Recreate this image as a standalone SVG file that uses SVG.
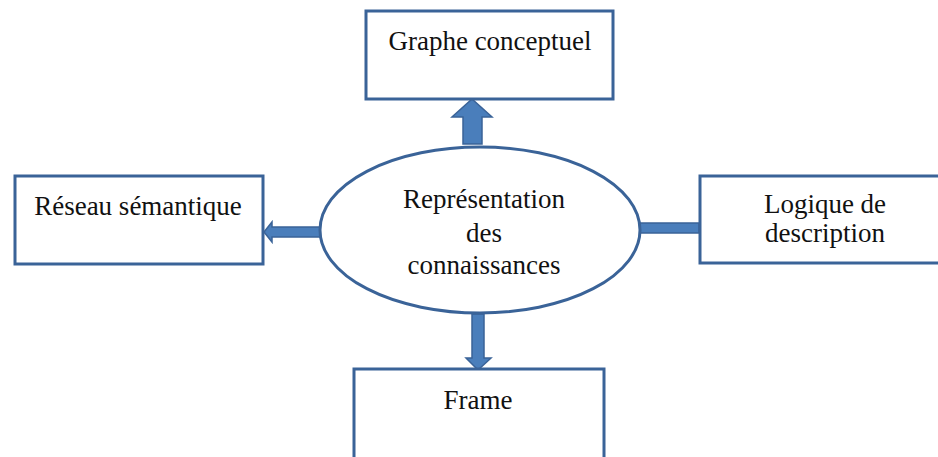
<svg xmlns="http://www.w3.org/2000/svg" width="938" height="457" viewBox="0 0 938 457">
<style>
.box{fill:#fff;stroke:#3A6398;stroke-width:3}
.t{font-family:"Liberation Serif","Times New Roman",serif;font-size:27px;fill:#111;text-anchor:middle}
.arr{fill:#4A7EBB;stroke:#3A6398;stroke-width:1.5}
</style>
<rect width="938" height="457" fill="#fff"/>
<g id="connectors">
<path class="arr" d="M463,144 L463,117 L452,117 L472,99 L492,117 L482,117 L482,144 Z"/>
<path class="arr" d="M321,227 L272,227 L272,222 L264,232 L272,242 L272,237 L321,237 Z"/>
<path class="arr" d="M640,223 L699,223 L699,233 L640,233 Z"/>
<path class="arr" d="M472,314 L472,358 L466,358 L478,370 L491,358 L484,358 L484,314 Z"/>
</g>
<g id="center">
<ellipse cx="480" cy="230" rx="160" ry="83" fill="#fff" stroke="#3A6398" stroke-width="3"/>
<text class="t" x="484" y="208">Représentation</text>
<text class="t" x="484" y="242">des</text>
<text class="t" x="484" y="274">connaissances</text>
</g>
<g id="graphe">
<rect class="box" x="366" y="11" width="247" height="88"/>
<text class="t" x="490" y="50">Graphe conceptuel</text>
</g>
<g id="reseau">
<rect class="box" x="15" y="176" width="248" height="88"/>
<text class="t" x="138" y="215">Réseau sémantique</text>
</g>
<g id="logique">
<rect class="box" x="700" y="176" width="240" height="87"/>
<text class="t" x="825" y="213">Logique de</text>
<text class="t" x="825" y="242">description</text>
</g>
<g id="frame">
<rect class="box" x="354" y="369" width="250" height="92"/>
<text class="t" x="478" y="409">Frame</text>
</g>
</svg>
